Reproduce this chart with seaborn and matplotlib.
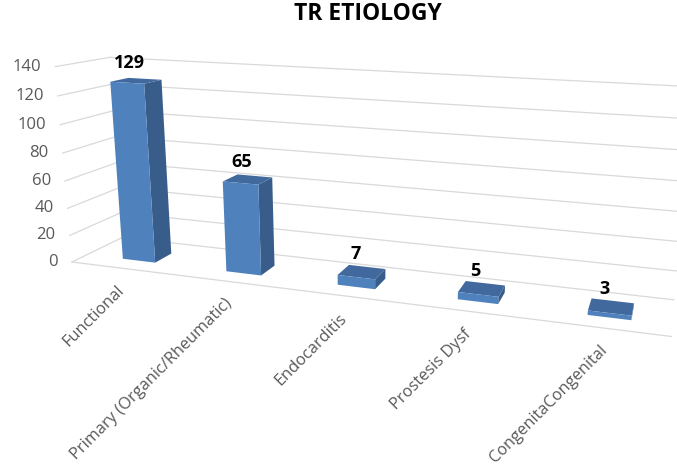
import numpy as np
import pandas as pd
import matplotlib
matplotlib.use("Agg")
import matplotlib.pyplot as plt
from matplotlib import transforms as mtransforms
from matplotlib.patches import Polygon
from matplotlib.lines import Line2D
import seaborn as sns

# ---------------- data ----------------
categories = ["Functional", "Primary (Organic/Rheumatic)", "Endocarditis",
              "Prostesis Dysf", "CongenitaCongenital"]
counts = [129, 65, 7, 5, 3]
y_ticks = [0, 20, 40, 60, 80, 100, 120, 140]
title = "TR ETIOLOGY"

# ---------------- style ----------------
FRONT = "#4F81BD"
SIDE = "#385D8A"
TOP = "#41699D"
GRID = "#D9D9D9"
TXT = "#595959"
BAR_W = 0.32
W_PX, H_PX = 677, 472

# ---------- 3D view: perspective camera (category, value, depth) -> pixel ----------
CAM = np.array([
    [96.1196, -0.140808, 21.23, 138.939],
    [3.02453, -1.4117, -1.30361, 260.688],
    [-0.0352474, -0.000388498, 0.030502, 1.0],
])
WALL_LEFT = -0.519      # category position of the left side wall
WALL_RIGHT = 4.45       # right end of the back wall
DEPTH_FRONT = -0.826    # front edge of the floor
DEPTH_BACK = 2.047      # back wall
IDX = {"T": 0, "V": 1, "D": 2}


class Proj(mtransforms.Transform):
    """Perspective projection of a plane of the 3D chart box to display pixels."""
    input_dims = 2
    output_dims = 2
    is_separable = False
    has_inverse = False

    def __init__(self, a, b, fixed, value):
        super().__init__()
        self.ia, self.ib, self.ifix = IDX[a], IDX[b], IDX[fixed]
        self.value = value

    def transform_non_affine(self, values):
        vals = np.asarray(values, float).reshape(-1, 2)
        X = np.ones((len(vals), 4))
        X[:, self.ia] = vals[:, 0]
        X[:, self.ib] = vals[:, 1]
        X[:, self.ifix] = self.value
        q = X @ CAM.T
        return np.column_stack([q[:, 0] / q[:, 2], H_PX - q[:, 1] / q[:, 2]])


def pt(t, v, d):
    q = CAM @ np.array([t, v, d, 1.0])
    return np.array([q[0] / q[2], H_PX - q[1] / q[2]])


# ---------------- figure ----------------
fig = plt.figure(figsize=(W_PX / 100, H_PX / 100), dpi=100)
ax = fig.add_axes([0, 0, 1, 1])
df = pd.DataFrame({"etiology": categories, "cases": counts})
sns.barplot(data=df, x="etiology", y="cases", width=BAR_W, color=FRONT,
            saturation=1, linewidth=0, ax=ax)
ax.set_axis_off()

# walls / gridlines
for v in y_ticks:
    ax.add_line(Line2D([DEPTH_FRONT, DEPTH_BACK], [v, v], color=GRID, lw=0.9,
                       transform=Proj("D", "V", "T", WALL_LEFT), zorder=1, clip_on=False))
    ax.add_line(Line2D([WALL_LEFT, WALL_RIGHT], [v, v], color=GRID, lw=0.9,
                       transform=Proj("T", "V", "D", DEPTH_BACK), zorder=1, clip_on=False))
ax.add_line(Line2D([WALL_LEFT, WALL_RIGHT], [0, 0], color=GRID, lw=0.9,
                   transform=Proj("T", "V", "D", DEPTH_FRONT), zorder=1, clip_on=False))

idn = mtransforms.IdentityTransform()
for v in y_ticks:
    x, y = pt(WALL_LEFT, v, DEPTH_FRONT)
    ax.text(x - 14, y, str(v), transform=idn, ha="right", va="center",
            fontsize=12, color=TXT, family="Open Sans")

for p, lab, val in zip(ax.patches, categories, counts):
    x0, w, h = p.get_x(), p.get_width(), p.get_height()
    x1 = x0 + w
    p.set_transform(Proj("T", "V", "D", 0.0))
    p.set_zorder(4)
    p.set_clip_on(False)
    # side faces (only the visible one)
    if pt(x1, 0, 1)[0] > pt(x1, 0, 0)[0]:
        ax.add_patch(Polygon([(0, 0), (1, 0), (1, h), (0, h)], closed=True,
                             facecolor=SIDE, edgecolor="none", zorder=3,
                             transform=Proj("D", "V", "T", x1), clip_on=False))
    if pt(x0, 0, 1)[0] < pt(x0, 0, 0)[0]:
        ax.add_patch(Polygon([(0, 0), (1, 0), (1, h), (0, h)], closed=True,
                             facecolor=SIDE, edgecolor="none", zorder=3,
                             transform=Proj("D", "V", "T", x0), clip_on=False))
    # top face
    ax.add_patch(Polygon([(x0, 0), (x1, 0), (x1, 1), (x0, 1)], closed=True,
                         facecolor=TOP, edgecolor="none", zorder=3.5,
                         transform=Proj("T", "D", "V", h), clip_on=False))
    # value label
    cx, cy = pt(x0 + w / 2, h, 0.5)
    ax.text(cx - 6.5, cy + 12.5, str(val), transform=idn, ha="center", va="baseline",
            fontsize=13, fontweight="bold", color="black", family="Open Sans")
    # category label
    fx, fy = pt(x0 + w / 2, 0, DEPTH_FRONT)
    ax.text(fx - 8, fy - 14, lab, transform=idn, ha="right", va="top",
            rotation=45, rotation_mode="anchor", fontsize=11.8, color=TXT,
            family="Open Sans")

fig.text(368 / W_PX, 1 - 20.5 / H_PX, title, ha="center", va="baseline",
         fontsize=16.5, fontweight="bold", family="Open Sans", color="black")

fig.savefig("out.png", dpi=100)
